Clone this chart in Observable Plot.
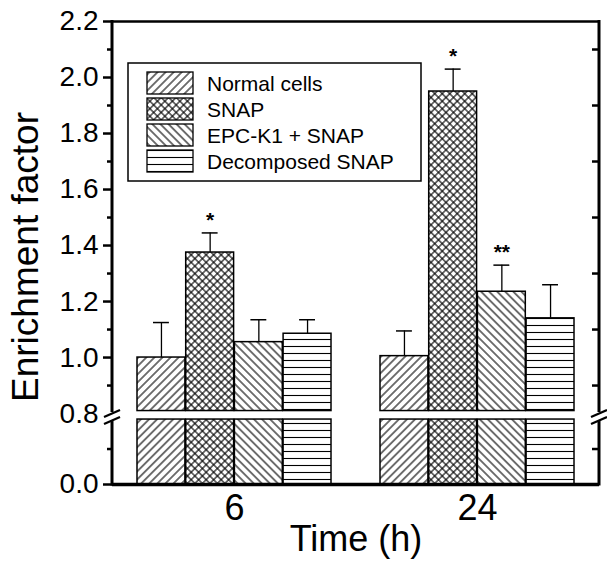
<!DOCTYPE html>
<html><head><meta charset="utf-8">
<script src="https://cdn.jsdelivr.net/npm/d3@7"></script>
<script src="https://cdn.jsdelivr.net/npm/@observablehq/plot@0.6"></script>
<style>body{margin:0;background:#fff} #chart svg{display:block}</style>
</head><body><div id="chart"></div>
<script>
// ---- data ----
const times = ["6", "24"];
const conditions = ["Normal cells", "SNAP", "EPC-K1 + SNAP", "Decomposed SNAP"];
const values6h = [1.00, 1.375, 1.055, 1.085];
const values24h = [1.005, 1.95, 1.235, 1.14];
const errors6h = [0.125, 0.07, 0.08, 0.05];
const errors24h = [0.09, 0.08, 0.095, 0.12];
const stars6h = ["", "*", "", ""];
const stars24h = ["", "*", "**", ""];
const yLabelTicks = [0.0, 0.8, 1.0, 1.2, 1.4, 1.6, 1.8, 2.0, 2.2];
const yMajorTicks = [0.0, 1.0, 1.2, 1.4, 1.6, 1.8, 2.0, 2.2];
const yMinorTicks = [0.4, 0.9, 1.1, 1.3, 1.5, 1.7, 1.9, 2.1];
const yBreak = 0.8;
const yMax = 2.2;

const seriesByTime = {"6": [values6h, errors6h, stars6h], "24": [values24h, errors24h, stars24h]};
const rows = times.flatMap(t => conditions.map((c, i) => ({
  time: t, condition: c,
  value: seriesByTime[t][0][i], error: seriesByTime[t][1][i], star: seriesByTime[t][2][i]
})));

// broken axis: the 0–0.8 segment is compressed
const lowerFactor = 0.3167;
const breakTransform = v => v <= yBreak ? v * lowerFactor : yBreak * lowerFactor + (v - yBreak);
const breakInverse = u => u <= yBreak * lowerFactor ? u / lowerFactor : u - yBreak * lowerFactor + yBreak;
const fmt = d3.format(".1f");

const patternIds = ["hatchFwd", "hatchCross", "hatchBack", "hatchHoriz"];
const patternUrl = patternIds.map(id => `url(#${id})`);
const bw = 48.7; // width of one bar inside a time band

function defsMark() {
  const g = d3.create("svg:g");
  const defs = g.append("defs");
  function diag(id, s, angle, cross) {
    const p = defs.append("pattern").attr("id", id).attr("patternUnits", "userSpaceOnUse")
      .attr("width", s).attr("height", s).attr("patternTransform", `rotate(${angle})`);
    p.append("rect").attr("width", s).attr("height", s).attr("fill", "white");
    p.append("line").attr("x1", s/2).attr("x2", s/2).attr("y1", 0).attr("y2", s)
      .attr("stroke", "black").attr("stroke-width", 1.1);
    if (cross) p.append("line").attr("y1", s/2).attr("y2", s/2).attr("x1", 0).attr("x2", s)
      .attr("stroke", "black").attr("stroke-width", 1.1);
  }
  diag("hatchFwd", 5.7, 45, false);
  diag("hatchCross", 5.3, 45, true);
  diag("hatchBack", 5.7, -45, false);
  const h = defs.append("pattern").attr("id", "hatchHoriz").attr("patternUnits", "userSpaceOnUse")
    .attr("width", 10).attr("height", 7);
  h.append("rect").attr("width", 10).attr("height", 7).attr("fill", "white");
  h.append("line").attr("x1", 0).attr("x2", 10).attr("y1", 3.5).attr("y2", 3.5)
    .attr("stroke", "black").attr("stroke-width", 1.1);
  return g.node();
}

function brokenSides(index, scales, values, dims) {
  const {y} = scales;
  const L = dims.marginLeft, R = dims.width - dims.marginRight;
  const top = y(breakTransform(yMax)), bot = y(0), yb = y(breakTransform(yBreak));
  const g = d3.create("svg:g").attr("stroke", "black").attr("fill", "none");
  for (const X of [L, R]) {
    g.append("line").attr("x1", X).attr("x2", X).attr("y1", top - 1).attr("y2", yb - 1).attr("stroke-width", 3);
    g.append("line").attr("x1", X).attr("x2", X).attr("y1", yb + 8).attr("y2", bot + 1.5).attr("stroke-width", 3);
    for (const c of [yb + 0.5, yb + 7.5]) {
      g.append("line").attr("x1", X - 8).attr("y1", c + 3.5).attr("x2", X + 8).attr("y2", c - 3.5).attr("stroke-width", 2.2);
    }
  }
  return g.node();
}

function legendMark() {
  const g = d3.create("svg:g");
  g.append("rect").attr("x", 128).attr("y", 63).attr("width", 293).attr("height", 118)
    .attr("fill", "white").attr("stroke", "black").attr("stroke-width", 1.5);
  conditions.forEach((c, i) => {
    const cy = 83 + i * 26;
    g.append("rect").attr("x", 147).attr("y", cy - 11).attr("width", 46).attr("height", 22)
      .attr("fill", patternUrl[i]).attr("stroke", "black").attr("stroke-width", 1.3);
    g.append("text").attr("x", 207).attr("y", cy).attr("dy", "0.4em").attr("text-anchor", "start")
      .attr("font-size", 21).attr("fill", "black").text(c);
  });
  return g.node();
}

const barMarks = conditions.flatMap((c, i) => {
  const d = rows.filter(r => r.condition === c);
  const inset = {insetLeft: i * bw, insetRight: (3 - i) * bw};
  const dx = (i - 1.5) * bw;
  return [
    Plot.barY(d, {x: "time", y1: 0, y2: yBreak, fill: patternUrl[i], stroke: "black", strokeWidth: 1.5, ...inset, insetTop: 6}),
    Plot.barY(d, {x: "time", y1: yBreak, y2: "value", fill: patternUrl[i], stroke: "black", strokeWidth: 1.5, ...inset, insetBottom: 2.5}),
    Plot.ruleX(d, {x: "time", y1: "value", y2: r => r.value + r.error, dx, strokeWidth: 1.3}),
    Plot.tickY(d, {x: "time", y: r => r.value + r.error, insetLeft: i * bw + 16, insetRight: (3 - i) * bw + 16, strokeWidth: 1.5}),
    Plot.text(d, {x: "time", y: r => r.value + r.error, text: "star", dx, dy: -13, fontSize: 21, fontWeight: "bold"})
  ];
});

// axis ticks live in the (transformed) scale space
const tY = arr => arr.map(breakTransform);

const chart = Plot.plot({
  width: 607, height: 561,
  marginLeft: 112, marginRight: 8, marginTop: 21, marginBottom: 77,
  style: {fontFamily: "'Liberation Sans', Arial, Helvetica, sans-serif", background: "white", color: "black"},
  x: {domain: times, paddingInner: 0.2, paddingOuter: 0.1},
  y: {transform: breakTransform},
  marks: [
    defsMark,
    ...barMarks,
    Plot.axisY({ticks: tY(yMajorTicks), tickSize: 9, strokeWidth: 2.5, tickFormat: () => "", label: null}),
    Plot.axisY({ticks: tY(yMinorTicks), tickSize: 5, strokeWidth: 2.5, tickFormat: () => "", label: null}),
    Plot.axisY({ticks: tY(yLabelTicks), tickSize: 0, tickPadding: 14, tickFormat: u => fmt(breakInverse(u)), fontSize: 28, label: null}),
    Plot.axisY({anchor: "right", ticks: tY(yMinorTicks), tickSize: 8, dx: -8, strokeWidth: 2.5, tickFormat: () => "", label: null}),
    Plot.axisX({tickSize: 0, tickPadding: 10, fontSize: 36, label: "Time (h)", labelAnchor: "center", labelOffset: 66}),
    Plot.ruleY([yMax], {strokeWidth: 2.5}),
    Plot.ruleY([0], {strokeWidth: 3.5}),
    Plot.text(["Enrichment factor"], {frameAnchor: "left", textAnchor: "middle", rotate: -90, dx: -86, dy: 4, fontSize: 37}),
    brokenSides,
    legendMark
  ]
});
document.getElementById("chart").appendChild(chart);
</script>
</body></html>
